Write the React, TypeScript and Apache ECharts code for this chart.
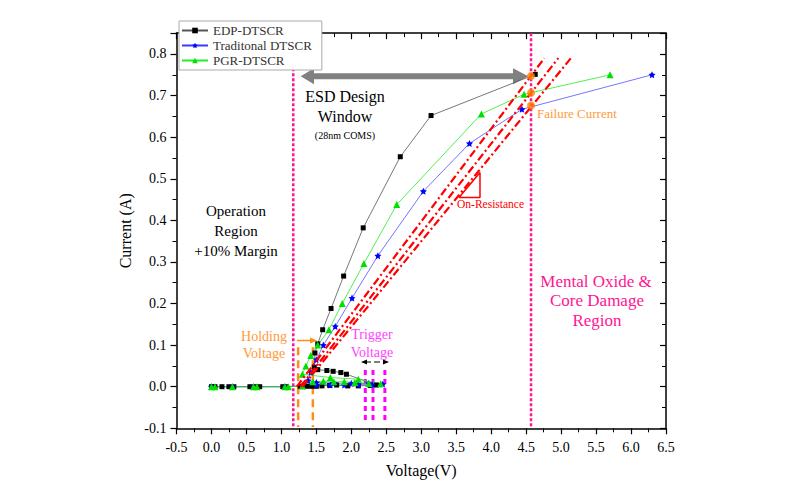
import { useEffect, useRef } from "react";
import * as echarts from "echarts";

// ---------- data (Voltage V, Current A) ----------
const edpData: [number, number][] = [
  [0, 0], [0.05, 0], [0.15, 0], [0.25, 0], [0.32, 0], [0.55, 0], [0.62, 0], [0.69, 0],
  [1.02, 0], [1.07, 0], [1.27, 0.001], [1.36, 0.001], [1.43, 0.001], [1.5, 0.001],
  [1.58, 0.002], [1.69, 0.003], [1.79, 0.004], [1.95, 0.002], [2.1, 0.002], [2.27, 0.003],
  [2.36, 0.004], [1.93, 0.03], [1.85, 0.034], [1.74, 0.037], [1.65, 0.039], [1.52, 0.041],
  [1.47, 0.047], [1.48, 0.081], [1.52, 0.103], [1.59, 0.137], [1.71, 0.188], [1.89, 0.266],
  [2.17, 0.382], [2.7, 0.553], [3.14, 0.652], [4.63, 0.751],
];
const tradData: [number, number][] = [
  [0, 0], [0.3, 0], [0.6, 0], [1.05, 0], [1.3, 0.002], [1.5, 0.004], [1.7, 0.004],
  [1.9, 0.004], [2.1, 0.005], [2.3, 0.005], [2.45, 0.006], [2.25, 0.008], [2.0, 0.008],
  [1.75, 0.009], [1.5, 0.01], [1.38, 0.015], [1.42, 0.035], [1.5, 0.065], [1.6, 0.1],
  [1.77, 0.145], [2.01, 0.213], [2.38, 0.315], [3.03, 0.47], [3.69, 0.585], [4.44, 0.667],
  [6.3, 0.75],
];
const pgrData: [number, number][] = [
  [0, 0], [0.05, 0], [0.3, 0], [0.6, 0], [0.65, 0], [1.05, 0], [1.1, 0], [1.3, 0.002],
  [1.45, 0.012], [1.6, 0.013], [1.75, 0.012], [1.9, 0.012], [2.05, 0.01], [2.25, 0.008],
  [2.42, 0.007], [2.1, 0.018], [1.7, 0.022], [1.3, 0.03], [1.35, 0.05], [1.42, 0.075],
  [1.52, 0.1], [1.68, 0.137], [1.87, 0.2], [2.18, 0.296], [2.65, 0.438], [3.86, 0.656],
  [4.47, 0.703], [5.7, 0.75],
];

const seriesNames = ["EDP-DTSCR", "Traditonal DTSCR", "PGR-DTSCR"];

// annotation reference values (data units)
const designWindowV = [1.17, 4.57];
const designWindowTopI = [0.778, 0.85];
const holdingV = [1.24, 1.45];
const holdingI = [0.095, -0.097];
const triggerV = [2.2, 2.31, 2.48];
const triggerI = [0.04, -0.08];
const failureV = 4.57;
const failureI = [0.747, 0.707, 0.676];
const onResStart: [number, number][] = [[1.22, 0], [1.27, 0], [1.3, 0]];
const onResEnd: [number, number][] = [[4.76, 0.79], [4.96, 0.79], [5.14, 0.79]];
const onResTriangle: [number, number][] = [[3.54, 0.455], [3.84, 0.455], [3.84, 0.515], [3.54, 0.455]];

const xTicks = { min: -0.5, max: 6.5, interval: 0.5 };
const yTicks = { min: -0.1, max: 0.85, interval: 0.1 };

const FONT = "'Liberation Serif', serif";
const STAR =
  "path://M0,-10 L2.94,-4.05 L9.51,-3.09 L4.76,1.55 L5.88,8.09 L0,5 L-5.88,8.09 L-4.76,1.55 L-9.51,-3.09 L-2.94,-4.05 Z";

function txt(text: string, x: number, y: number, size: number, fill: string, align = "center") {
  return {
    type: "text",
    x,
    y,
    z: 10,
    style: {
      text,
      fill,
      font: `${size}px ${FONT}`,
      align,
      verticalAlign: "middle",
      textAlign: align,
      textVerticalAlign: "middle",
    },
  };
}

export default function App() {
  const ref = useRef<HTMLDivElement>(null);
  useEffect(() => {
    if (!ref.current) return;
    const chart = echarts.init(ref.current, null, { renderer: "svg" });

    const axisCommon = {
      type: "value" as const,
      splitLine: { show: false },
      axisLine: { show: true, onZero: false, lineStyle: { color: "#000", width: 1.5 } },
    };
    const tickStyle = (inside: boolean) => ({
      axisTick: { show: true, inside, length: 6, lineStyle: { color: "#000", width: 1.2 } },
      minorTick: { show: true, splitNumber: 2, length: 4, lineStyle: { color: "#000", width: 1 } },
    });

    const vLine = (v: number, i: number[], color: string, width: number, dash: number[]) => ({
      type: "line",
      data: [[v, i[0]], [v, i[1]]],
      symbol: "none",
      silent: true,
      lineStyle: { color, width, type: dash },
      z: 3,
    });

    const series: any[] = [
      {
        name: seriesNames[0],
        type: "line",
        data: edpData,
        symbol: "rect",
        symbolSize: 5,
        itemStyle: { color: "#000" },
        lineStyle: { color: "#555", width: 0.8 },
        z: 4,
      },
      {
        name: seriesNames[1],
        type: "line",
        data: tradData,
        symbol: STAR,
        symbolSize: 7,
        itemStyle: { color: "#0000ff" },
        lineStyle: { color: "#3a3aff", width: 0.7 },
        z: 4,
      },
      {
        name: seriesNames[2],
        type: "line",
        data: pgrData,
        symbol: "triangle",
        symbolSize: 7,
        itemStyle: { color: "#00e000" },
        lineStyle: { color: "#22ee22", width: 0.8 },
        z: 4,
      },
      vLine(designWindowV[0], [designWindowTopI[0], yTicks.min], "#ff1493", 2.5, [3, 2]),
      vLine(designWindowV[1], [designWindowTopI[1], yTicks.min], "#ff1493", 2.5, [3, 2]),
      ...holdingV.map((v) => vLine(v, holdingI, "#ff8c1a", 2.5, [8, 5])),
      ...triggerV.map((v) => vLine(v, triggerI, "#ff00ff", 3, [5, 4])),
      ...onResStart.map((s, k) => ({
        type: "line",
        data: [s, onResEnd[k]],
        symbol: "none",
        silent: true,
        lineStyle: { color: "#ff0000", width: 2.2, type: [8, 3, 2, 3] },
        z: 5,
      })),
      {
        type: "line",
        data: onResTriangle,
        symbol: "none",
        silent: true,
        lineStyle: { color: "#ff0000", width: 1.5 },
        z: 5,
      },
      {
        type: "scatter",
        data: failureI.map((i) => [failureV, i]),
        symbol: "circle",
        symbolSize: 8,
        itemStyle: { color: "#ff8000" },
        silent: true,
        z: 6,
      },
    ];

    const arrow = [
      [300.7, 76.3], [314, 68.3], [314, 73.3], [513, 73.3], [513, 68.3], [528.3, 76.3],
      [513, 84.3], [513, 79.3], [314, 79.3], [314, 84.3],
    ];

    chart.setOption({
      animation: false,
      backgroundColor: "#fff",
      textStyle: { fontFamily: FONT },
      grid: { left: 176.5, right: 122, top: 33.2, bottom: 58.7, outerBoundsMode: "none" },
      legend: {
        data: seriesNames,
        orient: "vertical",
        left: 179,
        top: 21,
        backgroundColor: "#fff",
        borderColor: "#aaa",
        borderWidth: 1,
        padding: [3, 10, 3, 2],
        itemGap: 2,
        itemWidth: 26,
        itemHeight: 7,
        textStyle: { fontFamily: FONT, fontSize: 13, color: "#333", lineHeight: 12 },
        z: 8,
      },
      xAxis: [
        {
          ...axisCommon,
          ...tickStyle(false),
          position: "bottom",
          min: xTicks.min,
          max: xTicks.max,
          interval: xTicks.interval,
          axisLabel: {
            formatter: (v: number) => v.toFixed(1),
            fontFamily: FONT,
            fontSize: 14,
            color: "#000",
            margin: 12,
          },
          name: "Voltage(V)",
          nameLocation: "middle",
          nameGap: 34,
          nameTextStyle: { fontFamily: FONT, fontSize: 16, color: "#000" },
        },
        {
          ...axisCommon,
          ...tickStyle(true),
          position: "top",
          min: xTicks.min,
          max: xTicks.max,
          interval: xTicks.interval,
          axisLabel: { show: false },
        },
      ],
      yAxis: [
        {
          ...axisCommon,
          ...tickStyle(false),
          position: "left",
          min: yTicks.min,
          max: yTicks.max,
          interval: yTicks.interval,
          axisLabel: {
            formatter: (v: number) => v.toFixed(1),
            fontFamily: FONT,
            fontSize: 14,
            color: "#000",
            margin: 10,
            showMaxLabel: false,
          },
          name: "Current (A)",
          nameLocation: "middle",
          nameGap: 41,
          nameTextStyle: { fontFamily: FONT, fontSize: 16, color: "#000" },
        },
        {
          ...axisCommon,
          ...tickStyle(true),
          position: "right",
          min: yTicks.min,
          max: yTicks.max,
          interval: yTicks.interval,
          axisLabel: { show: false },
        },
      ],
      series,
      graphic: [
        {
          type: "polygon",
          z: 1,
          shape: { points: arrow },
          style: { fill: "#808080" },
        },
        txt("ESD Design", 345, 96, 16, "#000"),
        txt("Window", 345, 116, 16, "#000"),
        txt("(28nm COMS)", 345, 135, 10, "#000"),
        txt("Operation", 236, 211, 15, "#000"),
        txt("Region", 236, 231, 15, "#000"),
        txt("+10% Margin", 236, 251, 15, "#000"),
        txt("Mental Oxide &", 596, 281, 17, "#ff1493"),
        txt("Core Damage", 597, 300, 17, "#ff1493"),
        txt("Region", 597, 320, 17, "#ff1493"),
        txt("Holding", 264, 336, 14, "#ff9a3c"),
        txt("Voltage", 264, 353, 14, "#ff9a3c"),
        txt("Trigger", 372, 334, 14, "#ff44ff"),
        txt("Voltage", 372, 352, 14, "#ff44ff"),
        txt("Failure Current", 537, 113.5, 13, "#ff9a3c", "left"),
        txt("On-Resistance", 457, 204, 11.5, "#ff0000", "left"),
        {
          type: "line",
          z: 10,
          shape: { x1: 297, y1: 340.5, x2: 311, y2: 340.5 },
          style: { stroke: "#ff8c1a", lineWidth: 1.5 },
        },
        {
          type: "polygon",
          z: 10,
          shape: { points: [[317, 340.5], [310, 337.5], [310, 343.5]] },
          style: { fill: "#ff8c1a" },
        },
        {
          type: "line",
          z: 10,
          shape: { x1: 365, y1: 362, x2: 385, y2: 362 },
          style: { stroke: "#000", lineWidth: 1.2, lineDash: [6, 3] },
        },
        {
          type: "polygon",
          z: 10,
          shape: { points: [[361, 362], [367, 359.5], [367, 364.5]] },
          style: { fill: "#000" },
        },
        {
          type: "polygon",
          z: 10,
          shape: { points: [[389, 362], [383, 359.5], [383, 364.5]] },
          style: { fill: "#000" },
        },
      ],
    });
    return () => chart.dispose();
  }, []);
  return (
    <div
      ref={ref}
      style={{ position: "fixed", left: 0, top: 0, width: 788, height: 487 }}
    />
  );
}
